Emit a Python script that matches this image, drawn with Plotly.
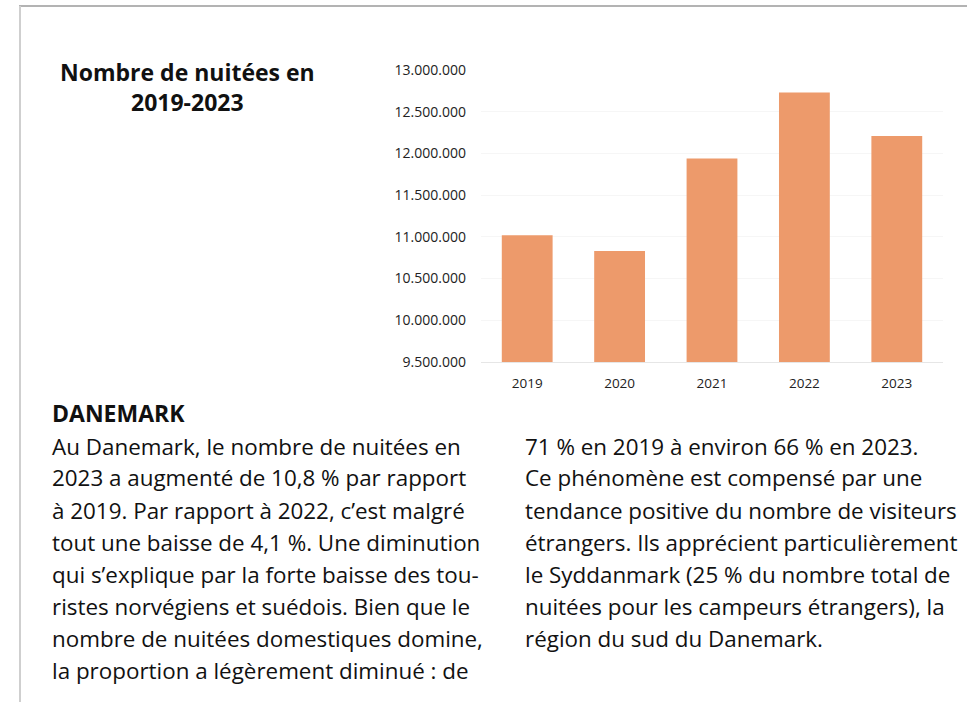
import plotly.graph_objects as go

# Data
years = ['2019', '2020', '2021', '2022', '2023']
nights = [11020000, 10830000, 11940000, 12730000, 12210000]
tick_vals = [9500000, 10000000, 10500000, 11000000, 11500000, 12000000, 12500000, 13000000]
tick_text = ['9.500.000', '10.000.000', '10.500.000', '11.000.000',
             '11.500.000', '12.000.000', '12.500.000', '13.000.000']

title_lines = ['Nombre de nuitées en', '2019-2023']
heading = 'DANEMARK'
left_lines = [
    'Au Danemark, le nombre de nuitées en',
    '2023 a augmenté de 10,8 % par rapport',
    'à 2019. Par rapport à 2022, c’est malgré',
    'tout une baisse de 4,1 %. Une diminution',
    'qui s’explique par la forte baisse des tou-',
    'ristes norvégiens et suédois. Bien que le',
    'nombre de nuitées domestiques domine,',
    'la proportion a légèrement diminué : de',
]
right_lines = [
    '71 % en 2019 à environ 66 % en 2023.',
    'Ce phénomène est compensé par une',
    'tendance positive du nombre de visiteurs',
    'étrangers. Ils apprécient particulièrement',
    'le Syddanmark (25 % du nombre total de',
    'nuitées pour les campeurs étrangers), la',
    'région du sud du Danemark.',
]

W, H = 967, 702
FONT = 'Open Sans'


def px(x):
    return x / W


def py(y):
    return 1 - y / H


fig = go.Figure()
fig.add_trace(go.Bar(x=years, y=nights, marker_color='#ED9A6B',
                     marker_line_width=0, hoverinfo='x+y'))

annotations = []
for i, line in enumerate(title_lines):
    annotations.append(dict(text='<b>%s</b>' % line, x=px(187), y=py(72 + i * 30),
                            xanchor='center',
                            font=dict(family=FONT, size=23, color='#111')))
annotations.append(dict(text='<b>%s</b>' % heading, x=px(50), y=py(413), xanchor='left',
                        font=dict(family=FONT, size=23, color='#111')))
for i, line in enumerate(left_lines):
    annotations.append(dict(text=line, x=px(50), y=py(446 + i * 32), xanchor='left',
                            font=dict(family=FONT, size=22.4, color='#111')))
for i, line in enumerate(right_lines):
    annotations.append(dict(text=line, x=px(523), y=py(446 + i * 32), xanchor='left',
                            font=dict(family=FONT, size=22.4, color='#111')))
for a in annotations:
    a.update(xref='paper', yref='paper', showarrow=False, yanchor='middle')

fig.update_layout(
    width=W, height=H,
    margin=dict(l=0, r=0, t=0, b=0),
    paper_bgcolor='white', plot_bgcolor='white',
    showlegend=False,
    bargap=0.45,
    font=dict(family=FONT, size=14, color='#222'),
    annotations=annotations,
    shapes=[
        dict(type='line', xref='paper', yref='paper', x0=px(19), x1=1, y0=py(6), y1=py(6),
             line=dict(color='#9a9a9a', width=1.5)),
        dict(type='line', xref='paper', yref='paper', x0=px(20), x1=px(20), y0=py(6), y1=0,
             line=dict(color='#cfcfcf', width=2)),
    ],
)
fig.update_xaxes(domain=[px(481), px(943)], showgrid=False, ticks='',
                 showline=True, linecolor='#e6e6e6', linewidth=1,
                 tickfont=dict(size=13.5),
                 ticklabelstandoff=9, automargin=False)
fig.update_yaxes(domain=[py(362), py(70)], range=[9500000, 13000000],
                 tickvals=tick_vals, ticktext=tick_text,
                 showgrid=True, gridcolor='#f6f6f6', zeroline=False, ticks='',
                 ticklabelstandoff=14, automargin=False)

# drop the browser's default page margin so the figure sits at the window corner
fig.write_html('out.html', config={'displayModeBar': False},
               post_script="document.body.style.margin='0';")
